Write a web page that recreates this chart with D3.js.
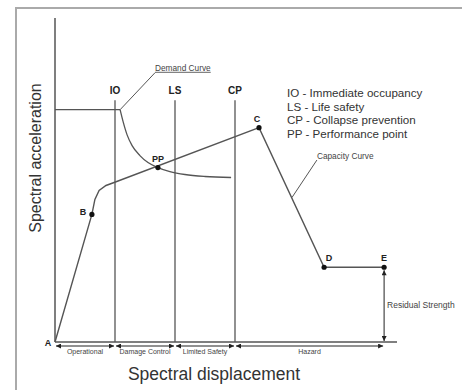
<!DOCTYPE html>
<html>
<head>
<meta charset="utf-8">
<script src="https://cdn.jsdelivr.net/npm/d3@7"></script>
<style>
  body { margin: 0; background: #fff; }
  svg { display: block; font-family: "Liberation Sans", Arial, sans-serif; }
</style>
</head>
<body>
<div id="chart"></div>
<script>
// capacity (pushover) curve A-B-C-D-E
const capacityX = [0, 1.23, 1.33, 1.47, 1.7, 1.97, 6.8, 8.97, 10.97];
const capacityY = [0, 0.512, 0.572, 0.608, 0.628, 0.64, 0.86, 0.30, 0.30];

// demand curve: plateau then decay
const demandPlateauX = [0, 2.17];
const demandPlateauY = [0.932, 0.932];
const demandX = [2.17, 2.27, 2.4, 2.57, 2.83, 3.1, 3.43, 3.83, 4.33, 5.0, 5.87];
const demandY = [0.932, 0.884, 0.832, 0.788, 0.748, 0.72, 0.70, 0.684, 0.672, 0.664, 0.66];

// key points
const pointNames = ["B", "PP", "C", "D", "E"];
const pointX = [1.23, 3.43, 6.8, 8.97, 10.97];
const pointY = [0.512, 0.70, 0.86, 0.30, 0.30];

// performance levels
const levelNames = ["IO", "LS", "CP"];
const levelX = [2, 4, 6];
const levelTop = 0.97;

// ranges under the axis
const rangeNames = ["Operational", "Damage Control", "Limited Safety", "Hazard"];
const rangeStart = [0, 2, 4, 6];
const rangeEnd = [2, 4, 6, 10.97];

const legendLines = [
  "IO - Immediate occupancy",
  "LS - Life safety",
  "CP - Collapse prevention",
  "PP - Performance point"
];

const width = 465, height = 390;
const ink = "#555";

const svg = d3.select("#chart").append("svg")
  .attr("width", width)
  .attr("height", height);

const x = d3.scaleLinear().domain([0, 11]).range([55, 385]);
const y = d3.scaleLinear().domain([0, 1.3]).range([342, 18]);

const defs = svg.append("defs");
["end", "start"].forEach(k => {
  defs.append("marker")
    .attr("id", "arr-" + k)
    .attr("viewBox", "0 0 10 10")
    .attr("refX", k === "end" ? 10 : 0).attr("refY", 5)
    .attr("markerWidth", 7).attr("markerHeight", 5)
    .attr("markerUnits", "userSpaceOnUse")
    .attr("orient", "auto")
    .append("path")
    .attr("d", k === "end" ? "M0,0L10,5L0,10Z" : "M10,0L0,5L10,10Z")
    .attr("fill", "#222");
});

// frame
svg.append("path")
  .attr("d", "M16,390V8H462")
  .attr("fill", "none")
  .attr("stroke", "#aaa")
  .attr("stroke-width", 2);

// axes lines
svg.append("line")
  .attr("x1", x(0)).attr("x2", x(0))
  .attr("y1", y(0)).attr("y2", y(1.3))
  .attr("stroke", ink).attr("stroke-width", 1.5);
svg.append("line")
  .attr("x1", x(0)).attr("x2", x(11.4))
  .attr("y1", y(0)).attr("y2", y(0))
  .attr("stroke", ink).attr("stroke-width", 1.5);

// performance level lines
levelNames.forEach((name, i) => {
  svg.append("line")
    .attr("x1", x(levelX[i])).attr("x2", x(levelX[i]))
    .attr("y1", y(levelTop)).attr("y2", y(0))
    .attr("stroke", ink).attr("stroke-width", 1.3);
  svg.append("text")
    .attr("x", x(levelX[i])).attr("y", y(levelTop) - 6)
    .attr("text-anchor", "middle")
    .attr("font-size", 10).attr("font-weight", "bold")
    .attr("fill", "#222")
    .text(name);
});

// demand curve
const line = d3.line().x(d => x(d[0])).y(d => y(d[1]));
svg.append("path")
  .attr("d", line(d3.zip(demandPlateauX, demandPlateauY)))
  .attr("fill", "none").attr("stroke", ink).attr("stroke-width", 1.3);
svg.append("path")
  .attr("d", line.curve(d3.curveMonotoneX)(d3.zip(demandX, demandY)))
  .attr("fill", "none").attr("stroke", ink).attr("stroke-width", 1.3);
line.curve(d3.curveLinear);

// capacity curve
svg.append("path")
  .attr("d", line(d3.zip(capacityX, capacityY)))
  .attr("fill", "none").attr("stroke", ink).attr("stroke-width", 1.4);

// points
pointNames.forEach((name, i) => {
  svg.append("circle")
    .attr("cx", x(pointX[i])).attr("cy", y(pointY[i]))
    .attr("r", 2.6).attr("fill", "#111");
  const dx = name === "B" ? -9 : (name === "D" ? 5 : (name === "C" ? -2 : 0));
  const dy = name === "PP" ? -6 : (name === "B" ? 1 : -6);
  svg.append("text")
    .attr("x", x(pointX[i]) + dx).attr("y", y(pointY[i]) + dy)
    .attr("text-anchor", "middle")
    .attr("font-size", 9).attr("font-weight", "bold")
    .attr("fill", "#222")
    .text(name);
});
svg.append("text")
  .attr("x", x(0) - 7).attr("y", y(0) + 4)
  .attr("text-anchor", "middle")
  .attr("font-size", 9).attr("font-weight", "bold")
  .attr("fill", "#222")
  .text("A");

// curve callouts
svg.append("line")
  .attr("x1", x(demandPlateauX[1])).attr("y1", y(demandPlateauY[1]))
  .attr("x2", x(3.33)).attr("y2", y(1.08))
  .attr("stroke", ink).attr("stroke-width", 1);
svg.append("text")
  .attr("x", x(3.33)).attr("y", y(1.08) - 2)
  .attr("font-size", 8.3).attr("fill", "#444")
  .attr("text-decoration", "underline")
  .text("Demand Curve");

svg.append("line")
  .attr("x1", x(7.9)).attr("y1", y(0.58))
  .attr("x2", x(8.73)).attr("y2", y(0.73))
  .attr("stroke", ink).attr("stroke-width", 1);
svg.append("text")
  .attr("x", x(8.73)).attr("y", y(0.73) - 1)
  .attr("font-size", 8.3).attr("fill", "#444")
  .text("Capacity Curve");

// residual strength
svg.append("line")
  .attr("x1", x(10.97)).attr("x2", x(10.97))
  .attr("y1", y(0.3) + 3).attr("y2", y(0) - 1)
  .attr("stroke", "#222").attr("stroke-width", 1)
  .attr("marker-start", "url(#arr-start)")
  .attr("marker-end", "url(#arr-end)");
svg.append("text")
  .attr("x", x(10.97) + 3).attr("y", y(0.15) + 3)
  .attr("font-size", 8.5).attr("fill", "#444")
  .text("Residual Strength");

// ranges under axis
rangeNames.forEach((name, i) => {
  svg.append("line")
    .attr("x1", x(rangeStart[i]) + 1).attr("x2", x(rangeEnd[i]) - 1)
    .attr("y1", y(0) + 4).attr("y2", y(0) + 4)
    .attr("stroke", "#222").attr("stroke-width", 1)
    .attr("marker-start", "url(#arr-start)")
    .attr("marker-end", "url(#arr-end)");
  svg.append("text")
    .attr("x", (x(rangeStart[i]) + x(rangeEnd[i])) / 2).attr("y", y(0) + 12)
    .attr("text-anchor", "middle")
    .attr("font-size", 7).attr("fill", "#444")
    .text(name);
});

// legend
svg.append("g")
  .selectAll("text")
  .data(legendLines)
  .join("text")
  .attr("x", 287)
  .attr("y", (d, i) => 97 + i * 13.5)
  .attr("font-size", 11.6)
  .attr("fill", "#333")
  .text(d => d);

// axis titles
svg.append("text")
  .attr("transform", "translate(41,158) rotate(-90)")
  .attr("text-anchor", "middle")
  .attr("font-size", 16).attr("fill", "#333")
  .text("Spectral acceleration");
svg.append("text")
  .attr("x", 214).attr("y", 380)
  .attr("text-anchor", "middle")
  .attr("font-size", 17.5).attr("fill", "#333")
  .text("Spectral displacement");
</script>
</body>
</html>
